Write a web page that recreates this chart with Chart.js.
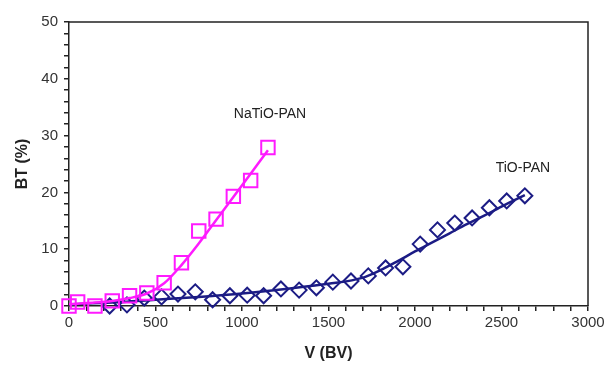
<!DOCTYPE html>
<html><head><meta charset="utf-8">
<script src="https://cdn.jsdelivr.net/npm/chart.js@4/dist/chart.umd.min.js"></script>
<style>html,body{margin:0;padding:0;background:#fff}#w{width:608px;height:365px}</style>
</head><body><div id="w"><canvas id="c"></canvas></div>
<script>
// NaTiO-PAN measured points
const natioV  = [0, 50, 150, 250, 350, 450, 550, 650, 750, 850, 950, 1050, 1150];
const natioBT = [0.0, 0.7, 0.0, 0.9, 1.8, 2.3, 4.1, 7.6, 13.2, 15.3, 19.3, 22.1, 27.9];
// NaTiO-PAN fitted curve
const natioFitV  = [0, 50, 150, 250, 350, 450, 550, 650, 750, 850, 950, 1050, 1150];
const natioFitBT = [0.3, 0.4, 0.6, 0.9, 1.4, 2.2, 4.0, 7.2, 11.0, 15.1, 19.2, 23.3, 27.4];
// TiO-PAN measured points
const tioV  = [235, 335, 435, 535, 630, 730, 830, 930, 1030, 1125, 1225, 1330, 1430, 1525, 1630, 1730, 1830, 1930, 2030, 2130, 2230, 2330, 2430, 2530, 2635];
const tioBT = [0.0, 0.2, 1.4, 1.6, 2.1, 2.5, 1.1, 1.8, 1.9, 1.8, 3.0, 2.8, 3.2, 4.2, 4.4, 5.3, 6.7, 6.9, 10.9, 13.4, 14.6, 15.5, 17.3, 18.5, 19.4];
// TiO-PAN fitted curve
const tioFitV  = [0, 250, 500, 750, 1000, 1250, 1500, 1700, 1800, 1900, 2000, 2100, 2200, 2300, 2400, 2500, 2635];
const tioFitBT = [0.3, 0.6, 1.1, 1.6, 2.2, 3.0, 3.9, 5.0, 6.3, 7.9, 9.6, 11.2, 12.8, 14.4, 15.9, 17.5, 19.5];
// labels
const seriesNames = ['NaTiO-PAN', 'TiO-PAN'];
const labelPosV  = [1162, 2624];
const labelPosBT = [33.8, 24.3];
const xTicks = [0, 500, 1000, 1500, 2000, 2500, 3000];
const yTicks = [0, 10, 20, 30, 40, 50];

const PINK = '#ff1aff', NAVY = '#1c1c85';
const pts = (xs, ys) => xs.map((x, i) => ({x, y: ys[i]}));

const boxPlugin = {
  id: 'box',
  afterDatasetsDraw(chart) {
    const {ctx, chartArea: a, scales} = chart;
    ctx.save();
    ctx.strokeStyle = '#222'; ctx.lineWidth = 1.5;
    ctx.beginPath();
    ctx.moveTo(a.left, a.top); ctx.lineTo(a.right, a.top); ctx.lineTo(a.right, a.bottom);
    ctx.stroke();
    ctx.fillStyle = '#222';
    ctx.font = '14px "Liberation Sans", Arial, sans-serif';
    ctx.textAlign = 'center'; ctx.textBaseline = 'middle';
    seriesNames.forEach((n, i) => {
      ctx.fillText(n, scales.x.getPixelForValue(labelPosV[i]), scales.y.getPixelForValue(labelPosBT[i]));
    });
    ctx.restore();
  }
};

Chart.defaults.font.family = '"Liberation Sans", Arial, sans-serif';
new Chart(document.getElementById('c'), {
  type: 'scatter',
  data: {
    datasets: [
      {data: pts(natioV, natioBT), pointStyle: 'rect', pointRadius: 9.5, pointBorderWidth: 2, clip: false,
       borderColor: PINK, backgroundColor: 'rgba(0,0,0,0)', pointBackgroundColor: 'rgba(0,0,0,0)', order: 0},
      {data: pts(natioFitV, natioFitBT), showLine: true, pointRadius: 0, borderColor: PINK, borderWidth: 2.5,
       cubicInterpolationMode: 'monotone', order: 1},
      {data: pts(tioV, tioBT), pointStyle: 'rectRot', pointRadius: 7.5, pointBorderWidth: 2, clip: false,
       borderColor: NAVY, backgroundColor: 'rgba(0,0,0,0)', pointBackgroundColor: 'rgba(0,0,0,0)', order: 2},
      {data: pts(tioFitV, tioFitBT), showLine: true, pointRadius: 0, borderColor: NAVY, borderWidth: 2.5,
       cubicInterpolationMode: 'monotone', order: 3}
    ]
  },
  options: {
    responsive: true, maintainAspectRatio: false, animation: false,
    layout: {padding: {left: 0, top: 22, right: 20, bottom: 0}},
    plugins: {legend: {display: false}, tooltip: {enabled: false}},
    scales: {
      x: {
        type: 'linear', min: 0, max: 3000,
        afterFit: s => { s.height = 59; },
        afterBuildTicks: s => { s.ticks = []; for (let v = 0; v <= 3000; v += 100) s.ticks.push({value: v}); },
        ticks: {autoSkip: false, maxRotation: 0, color: '#333', font: {size: 15}, padding: 3,
                callback: v => xTicks.includes(v) ? String(v) : ''},
        grid: {display: true, drawOnChartArea: false, drawTicks: true, tickLength: 5, color: '#222', lineWidth: 1.5},
        border: {display: true, color: '#222', width: 1.5},
        title: {display: true, text: 'V (BV)', color: '#222', font: {size: 16, weight: 'bold'}, padding: {top: 0, bottom: 2}}
      },
      y: {
        type: 'linear', min: 0, max: 50,
        afterFit: s => { s.width = 69; },
        afterBuildTicks: s => { s.ticks = []; for (let v = 0; v <= 50; v += 2) s.ticks.push({value: v}); },
        ticks: {autoSkip: false, color: '#333', font: {size: 15}, padding: 6,
                callback: v => yTicks.includes(v) ? String(v) : ''},
        grid: {display: true, drawOnChartArea: false, drawTicks: true, tickLength: 5, color: '#222', lineWidth: 1.5},
        border: {display: true, color: '#222', width: 1.5},
        title: {display: true, text: 'BT (%)', color: '#222', font: {size: 16, weight: 'bold'}, padding: {top: 13, bottom: 0}}
      }
    }
  },
  plugins: [boxPlugin]
});
</script>
</body></html>
